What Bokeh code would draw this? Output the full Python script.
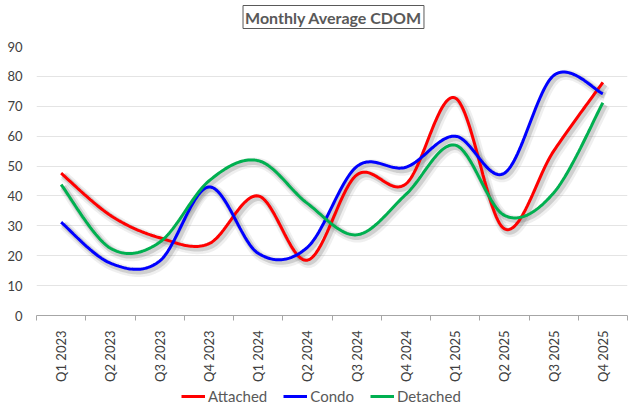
import math
import numpy as np
from bokeh.plotting import figure
from bokeh.layouts import column
from bokeh.models import Range1d, FixedTicker, Legend, LegendItem, Label
from bokeh.embed import file_html
from bokeh.resources import INLINE

quarters = ["Q1 2023", "Q2 2023", "Q3 2023", "Q4 2023",
            "Q1 2024", "Q2 2024", "Q3 2024", "Q4 2024",
            "Q1 2025", "Q2 2025", "Q3 2025", "Q4 2025"]
attached = [47.6, 33.5, 26.0, 24.0, 40.0, 18.5, 47.0, 44.0, 72.8, 29.0, 55.0, 78.0]
condo = [31.2, 17.5, 18.2, 43.0, 20.8, 22.8, 49.8, 49.6, 60.0, 47.6, 80.3, 74.2]
detached = [43.8, 22.5, 24.5, 45.0, 51.8, 37.5, 27.0, 40.5, 57.0, 33.5, 41.0, 71.2]
y_ticks = [0, 10, 20, 30, 40, 50, 60, 70, 80, 90]

series = [("Attached", attached, "#FF0000"),
          ("Condo", condo, "#0000FF"),
          ("Detached", detached, "#00B050")]

TXT = "#595959"
FONT = "Lato"


def smooth(ys, n=30):
    """Catmull-Rom style Bezier smoothing (like a spreadsheet smoothed line)."""
    xs = np.arange(len(ys), dtype=float)
    ys = np.asarray(ys, dtype=float)
    px, py = [], []
    N = len(ys)
    for i in range(N - 1):
        x0, y0 = xs[i], ys[i]
        x3, y3 = xs[i + 1], ys[i + 1]
        xm, ym = (xs[i - 1], ys[i - 1]) if i > 0 else (x0, y0)
        xp, yp = (xs[i + 2], ys[i + 2]) if i + 2 < N else (x3, y3)
        x1, y1 = x0 + (x3 - xm) / 6, y0 + (y3 - ym) / 6
        x2, y2 = x3 - (xp - x0) / 6, y3 - (yp - y0) / 6
        t = np.linspace(0, 1, n, endpoint=(i == N - 2))
        a = (1 - t) ** 3
        b = 3 * (1 - t) ** 2 * t
        c = 3 * (1 - t) * t ** 2
        d = t ** 3
        px.extend(a * x0 + b * x1 + c * x2 + d * x3)
        py.extend(a * y0 + b * y1 + c * y2 + d * y3)
    return np.array(px), np.array(py)


def strip(h):
    f = figure(width=640, height=h, output_backend="svg", toolbar_location=None,
               x_range=Range1d(0, 1), y_range=Range1d(0, 1),
               min_border_left=0, min_border_right=0, min_border_top=0,
               min_border_bottom=0)
    f.axis.visible = False
    f.grid.visible = False
    f.outline_line_color = None
    return f


# strips are frame-aligned with the main chart (frame left edge at 36px)
FRAME_LEFT = 36

# title strip
tf = strip(36)
tf.add_layout(Label(x=333 - FRAME_LEFT, y=19.5, x_units="screen", y_units="screen",
                    text="Monthly Average CDOM", text_align="center",
                    text_baseline="middle", text_font=FONT,
                    text_font_size="16px", text_font_style="bold",
                    text_color=TXT, border_line_color="#595959",
                    border_line_width=1, background_fill_color="white",
                    padding=2))

p = figure(width=640, height=348, output_backend="svg", toolbar_location=None,
           x_range=Range1d(-0.5, 11.5), y_range=Range1d(0, 90),
           min_border_left=FRAME_LEFT, min_border_right=13, min_border_top=10,
           min_border_bottom=68)
p.outline_line_color = None
p.background_fill_color = "white"
p.border_fill_color = "white"

# grid
p.xgrid.grid_line_color = None
p.ygrid.grid_line_color = "#E4E4E4"
p.ygrid.grid_line_width = 1

# y axis
p.yaxis.ticker = FixedTicker(ticks=y_ticks)
p.yaxis.axis_line_color = None
p.yaxis.major_tick_line_color = None
p.yaxis.major_tick_out = 0
p.yaxis.major_tick_in = 0
p.yaxis.minor_tick_line_color = None
p.yaxis.major_label_standoff = 14
p.yaxis.major_label_text_font = FONT
p.yaxis.major_label_text_font_size = "13px"
p.yaxis.major_label_text_color = "#404040"

# x axis
p.xaxis.ticker = FixedTicker(ticks=list(range(len(quarters))),
                             minor_ticks=[i - 0.5 for i in range(len(quarters) + 1)])
p.xaxis.major_label_overrides = {i: q for i, q in enumerate(quarters)}
p.xaxis.axis_line_color = "#A6A6A6"
p.xaxis.major_tick_line_color = None
p.xaxis.major_tick_out = 0
p.xaxis.major_tick_in = 0
p.xaxis.minor_tick_line_color = "#A6A6A6"
p.xaxis.minor_tick_in = 0
p.xaxis.minor_tick_out = 5
p.xaxis.major_label_orientation = math.pi / 2
p.xaxis.major_label_standoff = 10
p.xaxis.major_label_text_font = FONT
p.xaxis.major_label_text_font_size = "13px"
p.xaxis.major_label_text_color = "#404040"

# soft shadows
for name, vals, col in series:
    sx, sy = smooth(vals)
    p.line(sx + 0.05, sy - 0.9, line_color="#7F7F7F", line_width=10, line_alpha=0.12)
    p.line(sx + 0.04, sy - 0.7, line_color="#7F7F7F", line_width=6, line_alpha=0.28)
for name, vals, col in series:
    sx, sy = smooth(vals)
    p.line(sx, sy, line_color=col, line_width=3)

# legend strip below the chart (its proxy lines fall outside the strip's range)
lg = strip(33)
items = []
for name, vals, col in series:
    r = lg.line(x=list(range(len(vals))), y=vals, line_color=col, line_width=3)
    items.append(LegendItem(label=name, renderers=[r]))
legend = Legend(items=items, orientation="horizontal", location=(181 - FRAME_LEFT, 11),
                glyph_width=24, glyph_height=20, label_standoff=3, spacing=16,
                padding=0, margin=0, border_line_color=None,
                background_fill_alpha=0,
                label_text_font=FONT, label_text_font_size="15px",
                label_text_color=TXT)
lg.add_layout(legend, "center")

open("out.html", "w").write(file_html(column(tf, p, lg, spacing=0), INLINE))
